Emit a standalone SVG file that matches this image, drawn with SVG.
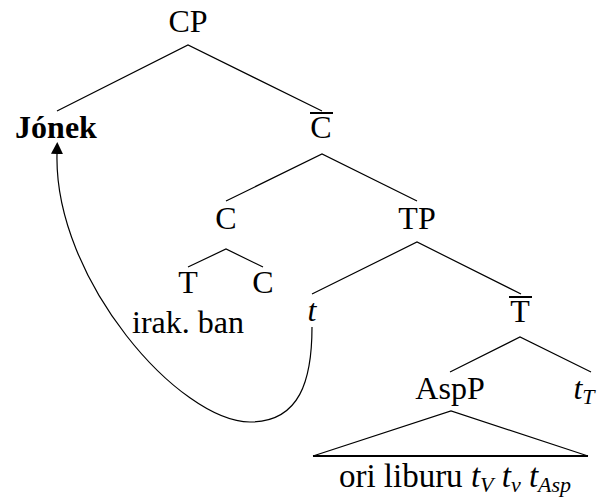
<svg xmlns="http://www.w3.org/2000/svg" width="602" height="497" viewBox="0 0 602 497">
<style>
text{font-family:"Liberation Serif","Times New Roman",serif;font-size:32px;fill:#000;text-anchor:middle}
.b{font-weight:bold}
.i{font-style:italic}
.sub{font-size:22px;font-style:italic}
.e{stroke:#000;stroke-width:1.2;fill:none}
.bar{stroke:#000;stroke-width:2;fill:none}
</style>
<defs>
<marker id="ah" markerUnits="userSpaceOnUse" markerWidth="12" markerHeight="12" refX="0" refY="5" orient="auto" viewBox="0 0 10 10">
<path d="M0,0 L10,5 L0,10 z" fill="#000"/>
</marker>
</defs>
<rect width="602" height="497" fill="#fff"/>
<g id="CP"><text x="188" y="32">CP</text></g>
<g id="Jonek"><text class="b" x="56" y="138">Jónek</text></g>
<g id="Cbar"><line class="bar" x1="310" y1="113" x2="333" y2="113"/><text x="321" y="138">C</text></g>
<g id="C"><text x="226" y="229">C</text></g>
<g id="TP"><text x="417" y="229">TP</text></g>
<g id="T"><text x="188" y="293">T</text></g>
<g id="C2"><text x="263" y="293">C</text></g>
<g id="irakban"><text x="188" y="333">irak. ban</text></g>
<g id="t"><text class="i" x="312" y="321">t</text></g>
<g id="Tbar"><line class="bar" x1="509" y1="297" x2="532" y2="297"/><text x="520" y="322">T</text></g>
<g id="AspP"><text x="450" y="399">AspP</text></g>
<g id="tT"><text x="584" y="399"><tspan class="i">t</tspan><tspan class="sub" dy="5">T</tspan></text></g>
<g id="AspPcontent"><text x="455" y="487" style="font-size:33px">ori liburu <tspan class="i">t</tspan><tspan class="sub" dy="5">V</tspan><tspan dy="-5"> </tspan><tspan class="i">t</tspan><tspan class="sub" dy="5">v</tspan><tspan dy="-5"> </tspan><tspan class="i">t</tspan><tspan class="sub" dy="5">Asp</tspan></text></g>
<g id="connectors">
<path class="e" d="M57,111 L188,45 L322,111"/>
<path class="e" d="M226,201 L322,154 L417,201"/>
<path class="e" d="M188,267 L226,249 L263,267"/>
<path class="e" d="M312,294 L417,242 L521,294"/>
<path class="e" d="M450,372 L520,337 L591,372"/>
<path class="e" d="M313,456 L451,411 L588,456"/>
<line class="bar" x1="313" y1="456" x2="588" y2="456"/>
<path class="e" d="M312,327 C312,380 300,422 250,422 C180,422 54,280 57,154" marker-end="url(#ah)"/>
</g>
</svg>
